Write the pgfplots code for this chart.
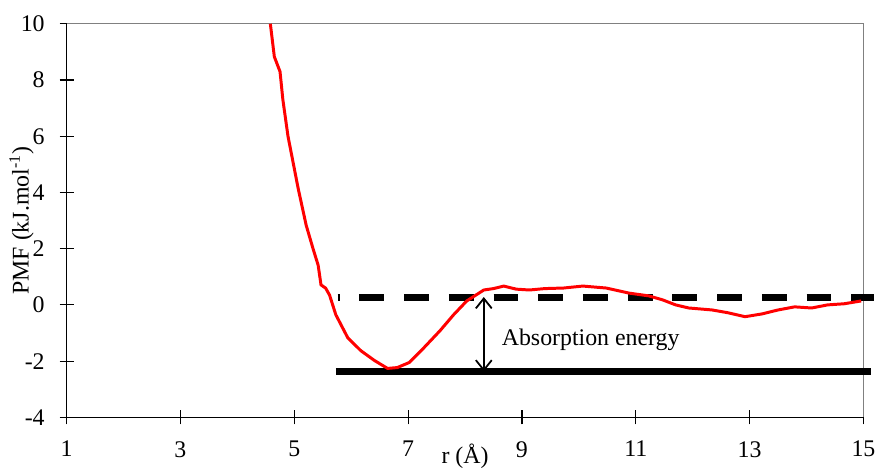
\documentclass[border=0pt]{standalone}
\usepackage{fontspec}
\setmainfont{Liberation Serif}
\usepackage{pgfplots}
\pgfplotsset{compat=1.18}
\usetikzlibrary{arrows.meta}
\begin{document}
\begin{tikzpicture}
\begin{axis}[
    scale only axis, width=401pt, height=198pt,
    xmin=1, xmax=15, ymin=-4, ymax=10,
    xtick={1,3,...,15}, ytick={-4,-2,...,10},
    axis x line*=bottom, axis y line*=left,
    axis line style={black, line width=0.6pt},
    tick align=center, major tick length=7pt,
    tick style={black, line width=0.6pt},
    /pgf/number format/assume math mode=true,
    tick label style={font=\fontsize{12}{14}\selectfont},
    xticklabel style={yshift=-5pt},
    yticklabel style={xshift=-4pt},
    label style={font=\fontsize{12}{14}\selectfont},
    xlabel={r (Å)},
    xlabel style={at={(axis description cs:0.5,0)}, anchor=north, yshift=-10pt},
    ylabel={PMF (kJ.mol\textsuperscript{-1})},
    ylabel style={at={(axis description cs:0,0.5)}, anchor=south, yshift=13pt},
    clip=false,
]
\draw[gray, line width=0.6pt] (rel axis cs:0,1) -- (rel axis cs:1,1) -- (rel axis cs:1,0);
\coordinate (bl) at (rel axis cs:0,0);
\coordinate (tr) at (rel axis cs:1,1);
% reference levels
\addplot[black, line width=3.5pt, dash pattern=on 12.5pt off 10pt, dash phase=11.5pt]
  coordinates {(5.76,0.28) (15.19,0.28)};
\addplot[black, line width=3.5pt] coordinates {(5.73,-2.37) (15.14,-2.37)};
% PMF curve
\addplot[red, line width=1.5pt] coordinates {
(4.58,10) (4.65,8.83) (4.75,8.3) (4.8,7.3) (4.89,6.0) (5.07,4.13) (5.21,2.83)
(5.33,2.0) (5.42,1.41) (5.47,0.71) (5.55,0.6) (5.62,0.35) (5.73,-0.35)
(5.94,-1.17) (6.17,-1.63) (6.41,-1.98) (6.64,-2.26) (6.81,-2.23) (7.02,-2.05)
(7.28,-1.52) (7.56,-0.92) (7.8,-0.35) (8.03,0.14) (8.33,0.53) (8.5,0.58)
(8.68,0.67) (8.9,0.56) (9.13,0.53) (9.4,0.58) (9.73,0.6) (10.07,0.67)
(10.48,0.6) (10.88,0.42) (11.23,0.32) (11.47,0.18) (11.7,0) (11.93,-0.11)
(12.34,-0.18) (12.62,-0.28) (12.92,-0.42) (13.22,-0.32) (13.5,-0.18)
(13.79,-0.07) (14.09,-0.11) (14.37,0) (14.66,0.04) (14.96,0.14)};
\draw[{Straight Barb[length=5pt,width=8pt]}-{Straight Barb[length=5pt,width=8pt]}, line width=0.9pt]
  (axis cs:8.33,0.28) -- (axis cs:8.33,-2.37);
\node[anchor=west, inner sep=0pt, font=\fontsize{12}{14}\selectfont] at (axis cs:8.64,-1.24) {Absorption energy};
\end{axis}
\path ([shift={(-33.5pt,-24pt)}]bl) rectangle ([shift={(6.5pt,12pt)}]tr);
\end{tikzpicture}
\end{document}
